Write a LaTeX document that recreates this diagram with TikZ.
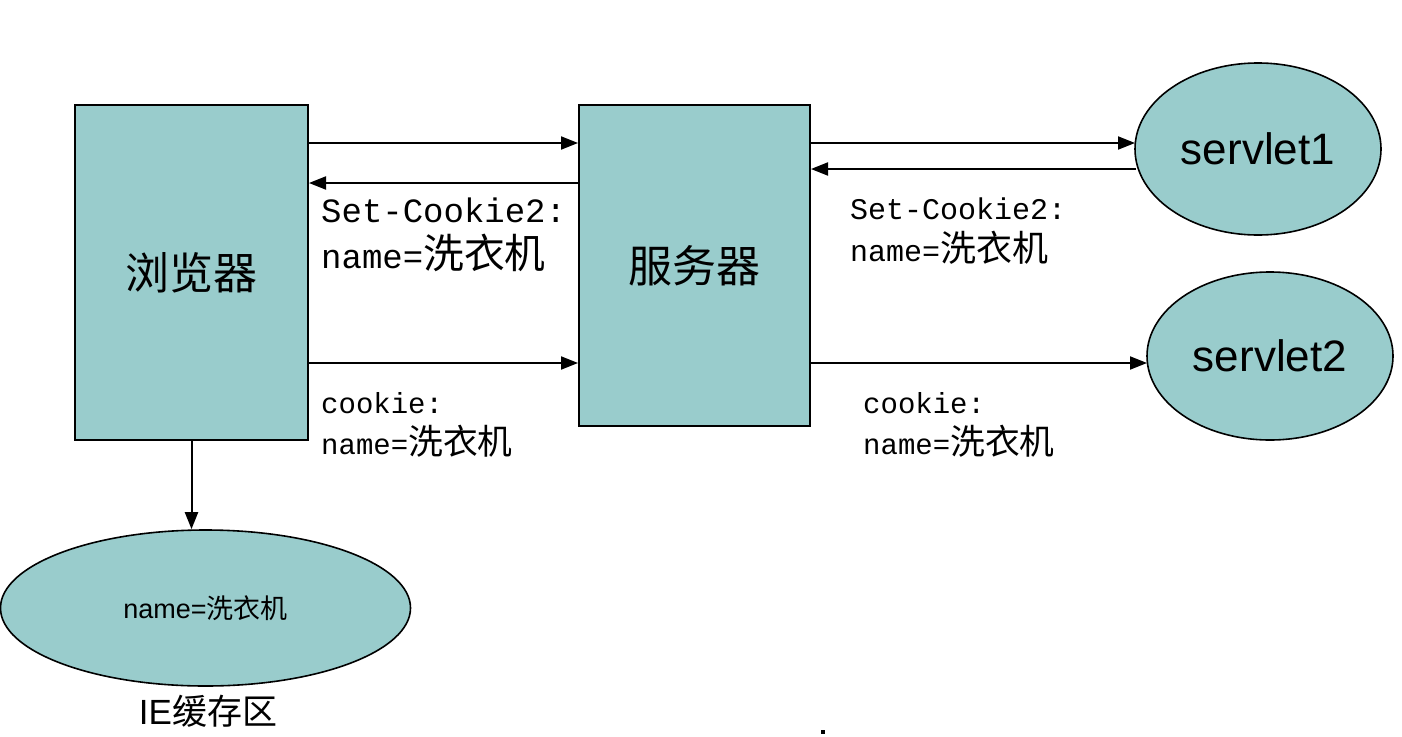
\documentclass[tikz,border=0pt]{standalone}
\usepackage{fontspec}
\setmainfont{Liberation Sans}
\setmonofont{Liberation Mono}
\newfontfamily\cjk{Noto Sans CJK SC}
\newfontfamily\cjkm[Scale=1.2]{Noto Sans CJK SC}
\usetikzlibrary{arrows.meta,shapes.geometric}
\definecolor{teal1}{HTML}{99CCCC}
\tikzset{
  box/.style={draw=black, line width=2pt, fill=teal1, inner sep=0pt},
  oval/.style={ellipse, draw=black, line width=1.6pt, fill=teal1, inner sep=0pt},
  arr/.style={line width=2pt, -{Triangle[length=17pt,width=13pt]}},
  lbl/.style={anchor=base west, inner sep=0pt, font=\ttfamily},
}
\begin{document}
\begin{tikzpicture}[x=1pt,y=-1pt]
\useasboundingbox (0,0) rectangle (1402,736);
\node[box, minimum width=233pt, minimum height=335pt] (browser) at (191.5,272.5)
  {\fontsize{44}{50}\selectfont\cjk 浏览器};
\node[box, minimum width=231pt, minimum height=321pt] (server) at (694.5,265.5)
  {\fontsize{44}{50}\selectfont\cjk 服务器};
\node[oval, minimum width=246pt, minimum height=172pt] (s1) at (1258,149)
  {\fontsize{44}{50}\selectfont servlet1};
\node[oval, minimum width=246pt, minimum height=168pt] (s2) at (1270,356)
  {\fontsize{44}{50}\selectfont servlet2};
\node[oval, minimum width=410pt, minimum height=156pt] (cache) at (205.5,608)
  {\fontsize{27}{32}\selectfont name={\cjk 洗衣机}};
\node[anchor=base, inner sep=0pt] (ie) at (208,724)
  {\fontsize{35}{40}\selectfont IE{\cjk 缓存区}};

\coordinate (y143) at (0,143);
\coordinate (y183) at (0,183);
\coordinate (y169) at (0,169);
\coordinate (y363) at (0,363);

\draw[arr] (browser.east |- y143) -- (server.west |- y143);
\draw[arr] (server.west |- y183) -- (browser.east |- y183);
\draw[arr] (browser.east |- y363) -- (server.west |- y363);
\draw[arr] (server.east |- y143) -- (1135,143) coordinate (s1in);
\draw[arr] (1136,169) coordinate (s1out) -- (server.east |- y169);
\draw[arr] (server.east |- y363) -- (1147,363) coordinate (s2in);
\draw[arr] (browser.south) -- (browser.south |- cache.north);

\node[lbl] (l1a) at (321,222) {\fontsize{34}{40}\selectfont Set-Cookie2:};
\node[lbl] (l1b) at (321,268) {\fontsize{34}{40}\selectfont name={\cjkm 洗衣机}};
\node[lbl] (r1a) at (850,219) {\fontsize{30}{36}\selectfont Set-Cookie2:};
\node[lbl] (r1b) at (850,261) {\fontsize{30}{36}\selectfont name={\cjkm 洗衣机}};
\node[lbl] (l2a) at (321,413) {\fontsize{29}{34}\selectfont cookie:};
\node[lbl] (l2b) at (321,454) {\fontsize{29}{34}\selectfont name={\cjkm 洗衣机}};
\node[lbl] (r2a) at (863,413) {\fontsize{29}{34}\selectfont cookie:};
\node[lbl] (r2b) at (863,454) {\fontsize{29}{34}\selectfont name={\cjkm 洗衣机}};

\fill (821,730) rectangle (825,734);
\end{tikzpicture}
\end{document}
